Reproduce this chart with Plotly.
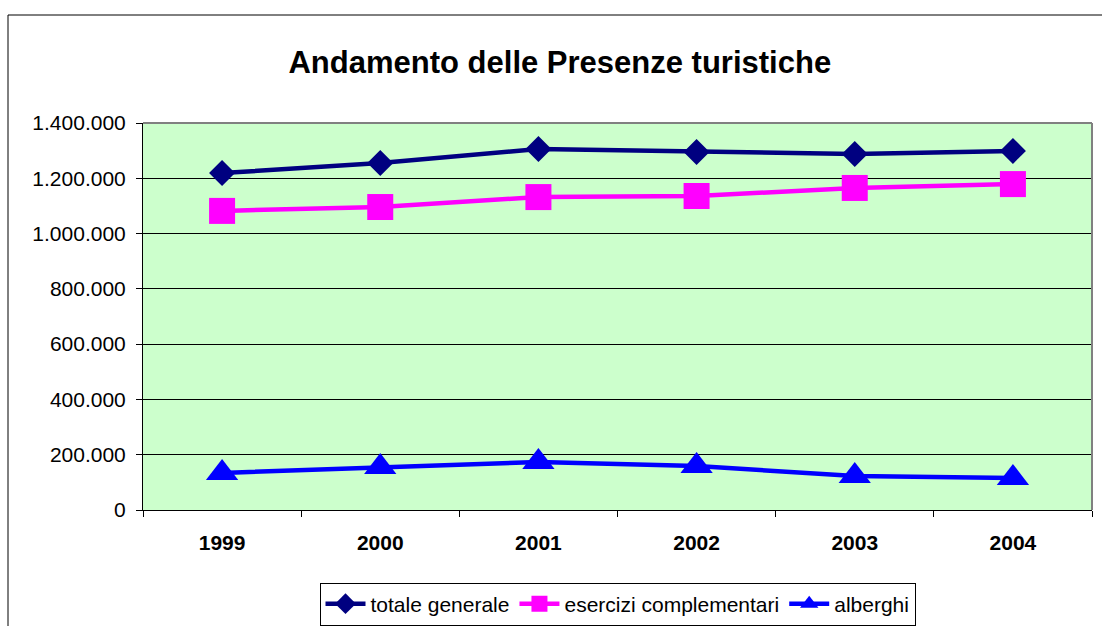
import plotly.graph_objects as go

years = ["1999", "2000", "2001", "2002", "2003", "2004"]
totale_generale = [1219000, 1255000, 1306000, 1295000, 1288000, 1299000]
esercizi_complementari = [1082000, 1096000, 1132000, 1136000, 1165000, 1179000]
alberghi = [134000, 156000, 174000, 159000, 123000, 116000]
y_ticks = [0, 200000, 400000, 600000, 800000, 1000000, 1200000, 1400000]

FONT = "Liberation Sans, Arial, sans-serif"

fig = go.Figure()
fig.add_trace(go.Scatter(x=years, y=totale_generale, name="totale generale",
                         mode="lines+markers",
                         line=dict(color="#000080", width=4.5),
                         marker=dict(symbol="diamond", size=20, color="#000080")))
fig.add_trace(go.Scatter(x=years, y=esercizi_complementari, name="esercizi complementari",
                         mode="lines+markers",
                         line=dict(color="#FF00FF", width=4.5),
                         marker=dict(symbol="square", size=26, color="#FF00FF")))
fig.add_trace(go.Scatter(x=years, y=alberghi, name="alberghi",
                         mode="lines+markers",
                         line=dict(color="#0000FF", width=4.5),
                         marker=dict(symbol="triangle-up", size=28, color="#0000FF")))

fig.update_layout(
    width=1102, height=626,
    margin=dict(l=143, r=10, t=123, b=116),
    paper_bgcolor="white",
    plot_bgcolor="#CCFFCC",
    separators=",.",
    font=dict(family=FONT, color="black", size=21),
    title=dict(text="<b>Andamento delle Presenze turistiche</b>",
               x=0.508, xanchor="center", y=0.9, yanchor="middle",
               font=dict(size=31, color="black")),
    showlegend=True,
    legend=dict(orientation="h", x=0.5, xanchor="center",
                yref="container", y=1 - 604 / 626, yanchor="middle",
                bordercolor="black", borderwidth=1, bgcolor="white",
                font=dict(size=21), itemwidth=40, tracegroupgap=0),
    xaxis=dict(type="category", range=[-0.5, 5.5], autorange=False,
               tickson="boundaries", ticks="outside", ticklen=6,
               tickcolor="black", showline=True, linecolor="black", linewidth=1,
               mirror=False, showgrid=False,
               tickfont=dict(size=21, family=FONT),
               ticklabelstandoff=14),
    yaxis=dict(range=[0, 1400000], autorange=False, tickvals=y_ticks, tickformat=",d",
               ticks="outside", ticklen=6, tickcolor="black",
               showline=True, linecolor="black", linewidth=1,
               showgrid=True, gridcolor="black", gridwidth=1,
               zeroline=False, tickfont=dict(size=21), ticklabelstandoff=6),
)
fig.update_xaxes(tickprefix="<b>", ticksuffix="</b>")

# plot-area border (grey top/right)
fig.add_shape(type="line", xref="paper", yref="paper", x0=0, x1=1, y0=1, y1=1,
              line=dict(color="#808080", width=2), layer="above")
fig.add_shape(type="line", xref="paper", yref="paper", x0=1, x1=1, y0=0, y1=1,
              line=dict(color="#808080", width=2), layer="above")
# chart outer border
fig.add_shape(type="rect", xref="paper", yref="paper",
              x0=(8 - 143) / 949, x1=1.05, y0=-0.4, y1=(510 - 15) / 387,
              line=dict(color="black", width=1), layer="below")

fig.write_html("out.html",
               config={"displayModeBar": False},
               post_script="document.body.style.margin='0';"
                           "document.body.style.overflow='hidden';")
